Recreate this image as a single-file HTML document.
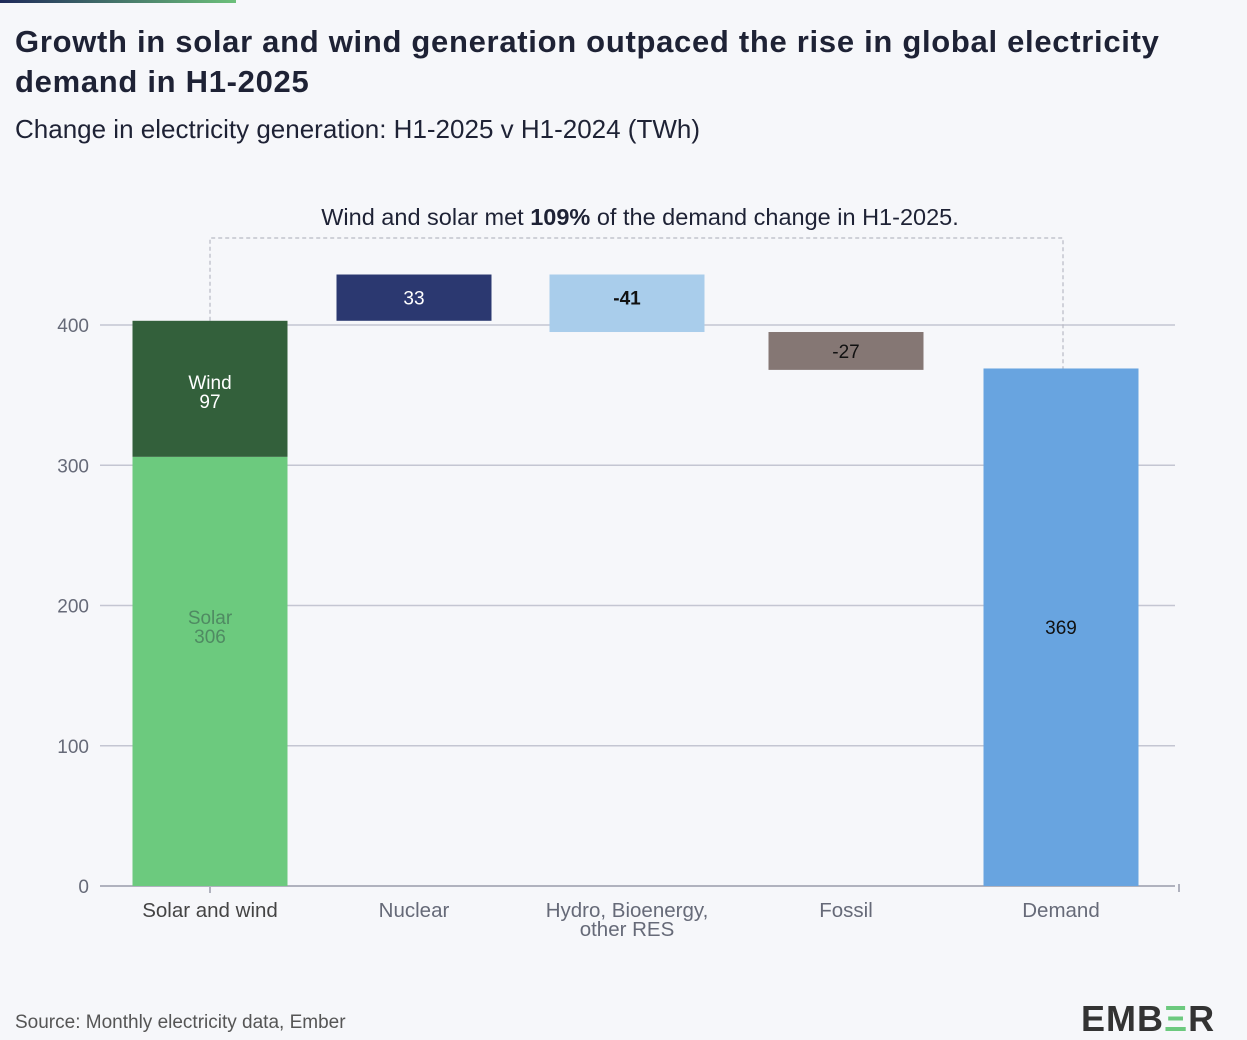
<!DOCTYPE html>
<html><head><meta charset="utf-8"><style>
body{margin:0;width:1247px;height:1033px;background:#f6f7fa;font-family:"Liberation Sans",sans-serif;position:relative;overflow:hidden;color:#1e2235}
#bar{position:absolute;left:0;top:0;width:236px;height:3px;background:linear-gradient(90deg,#1e2a5a,#6cc07a)}
h1{position:absolute;left:15px;top:22px;margin:0;font-size:31px;line-height:40px;font-weight:bold;letter-spacing:0.7px;width:1230px;white-space:nowrap}
#sub{position:absolute;left:15px;top:114px;font-size:26px;color:#1e2235}
#src{position:absolute;left:15px;top:1012px;font-size:19px;color:#555}
#logo{position:absolute;left:1081px;top:998px;font-size:36px;font-weight:bold;color:#333;letter-spacing:1px}
svg{position:absolute;left:0;top:0}
</style></head><body>
<div id="bar"></div>
<h1>Growth in solar and wind generation outpaced the rise in global electricity<br>demand in H1-2025</h1>
<div id="sub">Change in electricity generation: H1-2025 v H1-2024 (TWh)</div>
<div id="src">Source: Monthly electricity data, Ember</div>
<div id="logo">EMB<span style="color:#6cc97e">Ξ</span>R</div>
<svg id="chart" width="1247" height="1033"></svg>
<script>
const categories=["Solar and wind","Nuclear","Hydro, Bioenergy,|other RES","Fossil","Demand"];
const bases=[0,403,436,395,0];
const changes=[403,33,-41,-27,369];
const labels=["","33","-41","-27","369"];
const solarVal=306, windVal=97;
const ticks=[0,100,200,300,400];
const colors=["","#2b3870","#a9cdeb","#857774","#68a4e0"];
const NS="http://www.w3.org/2000/svg";
const svg=document.getElementById('chart');
const y=v=>886-v*1.4025;
const cx=[210,414,627,846,1061], bw=155;
function el(t,a,p){const e=document.createElementNS(NS,t);for(const k in a)e.setAttribute(k,a[k]);(p||svg).appendChild(e);return e;}
function txt(x,yy,s,a){const e=el('text',Object.assign({x:x,y:yy,'text-anchor':'middle','font-family':'Liberation Sans, sans-serif','font-size':18},a||{}));e.textContent=s;return e;}
ticks.forEach(t=>{
 const l=el('line',{x1:100,x2:1175,y1:y(t),y2:y(t),stroke:t?'#c4c6d2':'#b0b2be','stroke-width':t?1.5:2});
 
 
 const tl=txt(89,y(t)+7,String(t),{'text-anchor':'end',fill:'#666a78','font-size':19});
 
 
});
el('line',{x1:1179,x2:1179,y1:884,y2:892,stroke:'#b0b2be','stroke-width':2});
el('line',{x1:210,x2:210,y1:886,y2:893,stroke:'#b0b2be','stroke-width':2});
const p=el('path',{d:`M210 ${y(403)} V238 H1063 V${y(369)}`,fill:'none',stroke:'#b8bac4','stroke-dasharray':'4 3','stroke-width':1.2});


const ann=txt(640,225,'',{'font-size':23.5,fill:'#1e2235'});
ann.innerHTML='Wind and solar met <tspan font-weight="bold">109%</tspan> of the demand change in H1-2025.';


const s=el('rect',{x:cx[0]-77.5,width:bw,y:y(solarVal),height:y(0)-y(solarVal),fill:'#6cca7e'});


const w=el('rect',{x:cx[0]-77.5,width:bw,y:y(solarVal+windVal),height:y(solarVal)-y(solarVal+windVal),fill:'#33603b'});


const m1=(y(solarVal+windVal)+y(solarVal))/2;
txt(cx[0],m1,'Wind',{fill:'#fff','font-size':19});txt(cx[0],m1+19,String(windVal),{fill:'#fff','font-size':19});
const m2=625;
txt(cx[0],m2-1,'Solar',{fill:'#4f8a62','font-size':19});txt(cx[0],m2+18,String(solarVal),{fill:'#4f8a62','font-size':19});
for(let i=1;i<5;i++){
 const a=bases[i],b=bases[i]+changes[i];
 const r=el('rect',{x:cx[i]-77.5,width:bw,y:y(Math.max(a,b)),height:Math.abs(y(a)-y(b)),fill:colors[i]});
 
 
 const mid=(y(a)+y(b))/2;
 const lab=txt(cx[i],(i==2?y(Math.max(a,b))+30:mid+7),labels[i],{fill:i==1?'#fff':'#111','font-weight':i==2?'bold':'normal','font-size':19});
 
 
}
categories.forEach((c,i)=>{
 c.split('|').forEach((line,j)=>{
  const t=txt(cx[i],917+j*19,line,{fill:i==0?'#444':'#666a78','font-size':20.5});
  
  
 });
});
</script>
</body></html>
